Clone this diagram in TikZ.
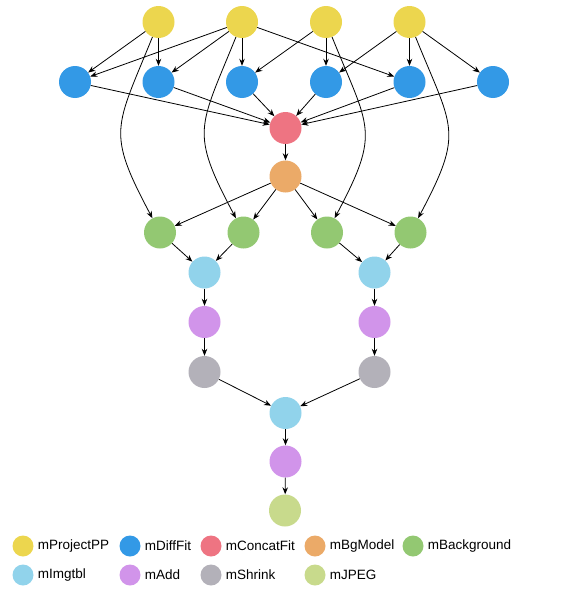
\documentclass[tikz,border=0pt]{standalone}
\usepackage{fontspec}
\setmainfont{Liberation Sans}
\usetikzlibrary{arrows.meta, positioning}
\definecolor{cPP}{HTML}{ECD64E}
\definecolor{cDF}{HTML}{3399E6}
\definecolor{cCF}{HTML}{EE7482}
\definecolor{cBM}{HTML}{EBAA68}
\definecolor{cBG}{HTML}{93C872}
\definecolor{cIT}{HTML}{91D3EB}
\definecolor{cAD}{HTML}{D194EA}
\definecolor{cSH}{HTML}{B3B1B9}
\definecolor{cJP}{HTML}{C8DA8C}
\tikzset{
    job/.style={circle, minimum size=32pt, inner sep=0pt},
    key/.style={circle, minimum size=21pt, inner sep=0pt},
    keytext/.style={anchor=west, inner sep=0pt, font=\fontsize{13.5}{16}\selectfont},
    arrow/.style={-{Stealth[length=7pt, width=5.5pt]}, line width=0.8pt},
    curved/.style={arrow, looseness=1.4}
}

\begin{document}
\begin{tikzpicture}[x=1pt, y=-1pt]
        \useasboundingbox (0,0) rectangle (570,589);

        % mProjectPP
        \node (PP_1) [job, fill=cPP] at (158.5, 22) {};
        \node (PP_2) [job, fill=cPP] at (242, 22) {};
        \node (PP_3) [job, fill=cPP] at (326, 22) {};
        \node (PP_4) [job, fill=cPP] at (409.5, 22) {};

        % mDiffFit
        \node (DF_1) [job, fill=cDF] at (75, 82) {};
        \node (DF_2) [job, fill=cDF] at (158.5, 82) {};
        \node (DF_3) [job, fill=cDF] at (242, 82) {};
        \node (DF_4) [job, fill=cDF] at (326, 82) {};
        \node (DF_5) [job, fill=cDF] at (409.5, 82) {};
        \node (DF_6) [job, fill=cDF] at (493, 82) {};

        % mConcatFit, mBgModel
        \node (CF) [job, fill=cCF] at (285.5, 128) {};
        \node (BM) [job, fill=cBM] at (285.5, 176.5) {};

        % mBackground
        \node (BG_1) [job, fill=cBG] at (160, 232.5) {};
        \node (BG_2) [job, fill=cBG] at (243.5, 232.5) {};
        \node (BG_3) [job, fill=cBG] at (327, 232.5) {};
        \node (BG_4) [job, fill=cBG] at (410.5, 232.5) {};

        % left and right branch
        \node (IT_1) [job, fill=cIT] at (204.5, 272.5) {};
        \node (AD_1) [job, fill=cAD] at (204.5, 322) {};
        \node (SH_1) [job, fill=cSH] at (204.5, 372) {};
        \node (IT_2) [job, fill=cIT] at (374.5, 272.5) {};
        \node (AD_2) [job, fill=cAD] at (374.5, 322) {};
        \node (SH_2) [job, fill=cSH] at (374.5, 372) {};

        % final steps
        \node (IT_3) [job, fill=cIT] at (285.5, 413) {};
        \node (AD_3) [job, fill=cAD] at (285.5, 461.5) {};
        \node (JPEG) [job, fill=cJP] at (285, 510.5) {};

        % mProjectPP -> mDiffFit
        \draw[arrow] (PP_1) -- (DF_1);
        \draw[arrow] (PP_1) -- (DF_2);
        \draw[arrow] (PP_2) -- (DF_1);
        \draw[arrow] (PP_2) -- (DF_2);
        \draw[arrow] (PP_2) -- (DF_3);
        \draw[arrow] (PP_2) -- (DF_5);
        \draw[arrow] (PP_3) -- (DF_3);
        \draw[arrow] (PP_3) -- (DF_4);
        \draw[arrow] (PP_4) -- (DF_4);
        \draw[arrow] (PP_4) -- (DF_5);
        \draw[arrow] (PP_4) -- (DF_6);

        % mProjectPP -> mBackground
        \draw[curved] (PP_1) to[out=248, in=118] (BG_1);
        \draw[curved] (PP_2) to[out=248, in=118] (BG_2);
        \draw[curved] (PP_3) to[out=292, in=62] (BG_3);
        \draw[curved] (PP_4) to[out=292, in=62] (BG_4);

        % mDiffFit -> mConcatFit -> mBgModel
        \draw[arrow] (DF_1) -- (CF);
        \draw[arrow] (DF_2) -- (CF);
        \draw[arrow] (DF_3) -- (CF);
        \draw[arrow] (DF_4) -- (CF);
        \draw[arrow] (DF_5) -- (CF);
        \draw[arrow] (DF_6) -- (CF);
        \draw[arrow] (CF) -- (BM);

        % mBgModel -> mBackground
        \draw[arrow] (BM) -- (BG_1);
        \draw[arrow] (BM) -- (BG_2);
        \draw[arrow] (BM) -- (BG_3);
        \draw[arrow] (BM) -- (BG_4);

        % branches
        \draw[arrow] (BG_1) -- (IT_1);
        \draw[arrow] (BG_2) -- (IT_1);
        \draw[arrow] (BG_3) -- (IT_2);
        \draw[arrow] (BG_4) -- (IT_2);
        \draw[arrow] (IT_1) -- (AD_1);
        \draw[arrow] (AD_1) -- (SH_1);
        \draw[arrow] (IT_2) -- (AD_2);
        \draw[arrow] (AD_2) -- (SH_2);
        \draw[arrow] (SH_1) -- (IT_3);
        \draw[arrow] (SH_2) -- (IT_3);
        \draw[arrow] (IT_3) -- (AD_3);
        \draw[arrow] (AD_3) -- (JPEG);

        % Legend
        \node (key_PP) [key, fill=cPP] at (23, 546) {};
        \node (key_DF) [key, fill=cDF] at (130, 546) {};
        \node (key_CF) [key, fill=cCF] at (211, 546) {};
        \node (key_BM) [key, fill=cBM] at (315, 546) {};
        \node (key_BG) [key, fill=cBG] at (413, 546) {};
        \node (key_IT) [key, fill=cIT] at (23, 575) {};
        \node (key_AD) [key, fill=cAD] at (130, 575) {};
        \node (key_SH) [key, fill=cSH] at (211, 575) {};
        \node (key_JP) [key, fill=cJP] at (315, 575) {};
        \node (txt_PP) [keytext, right=4pt of key_PP] {mProjectPP};
        \node (txt_DF) [keytext, right=4pt of key_DF] {mDiffFit};
        \node (txt_CF) [keytext, right=4pt of key_CF] {mConcatFit};
        \node (txt_BM) [keytext, right=4pt of key_BM] {mBgModel};
        \node (txt_BG) [keytext, right=4pt of key_BG] {mBackground};
        \node (txt_IT) [keytext, right=4pt of key_IT] {mImgtbl};
        \node (txt_AD) [keytext, right=4pt of key_AD] {mAdd};
        \node (txt_SH) [keytext, right=4pt of key_SH] {mShrink};
        \node (txt_JP) [keytext, right=4pt of key_JP] {mJPEG};
    \end{tikzpicture}
\end{document}
